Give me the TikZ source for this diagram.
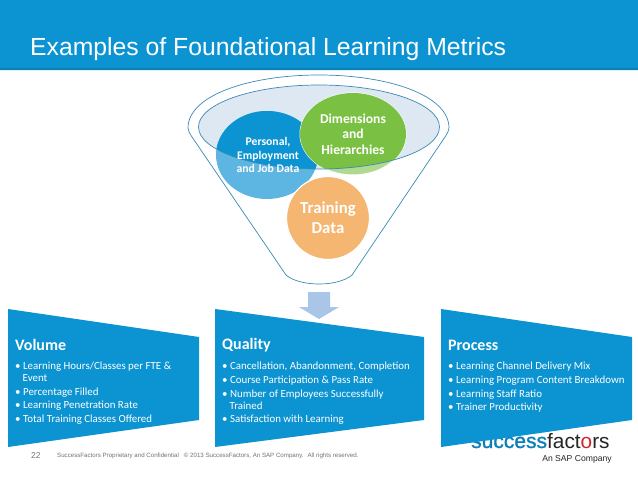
\documentclass[tikz,border=0pt]{standalone}
\usepackage{fontspec}
\setmainfont{Liberation Sans}
\newfontfamily\carl{Carlito}
\newfontfamily\logofont[FakeBold=1.2]{Liberation Sans}
\definecolor{sfblue}{HTML}{0C93D2}
\definecolor{sfdark}{HTML}{0A7FB8}
\definecolor{funline}{HTML}{3B89B5}
\definecolor{rimfill}{HTML}{DEE8F3}
\definecolor{bluelight}{HTML}{5DB6E2}
\definecolor{greensolid}{HTML}{7AC143}
\definecolor{greenlight}{HTML}{AFD98F}
\definecolor{orangefill}{HTML}{F4B670}
\definecolor{arrowfill}{HTML}{A9C5E8}
\definecolor{logored}{HTML}{D2232A}
\tikzset{x=1pt,y=-1pt,
 panel/.style={fill=sfblue,draw=none},
 paneltitle/.style={text=white,font=\carl\bfseries\fontsize{16}{18}\selectfont,anchor=west,inner sep=0pt},
 bul/.style={text=white,font=\carl\fontsize{10.9}{12}\selectfont,anchor=north west,inner sep=0pt,align=left},
 bubble/.style={text=white,align=center,inner sep=0pt},
 foot/.style={text=black!55,font=\fontsize{6.15}{7}\selectfont,anchor=west,inner sep=0pt}}
\newcommand{\funnelpath}{(188,128) .. controls (188,95) and (250,75) .. (319,75) .. controls (388,75) and (449,95) .. (449,128) .. controls (449,131) and (447,134) .. (445,137) -- (352,275) .. controls (345,281) and (332,284) .. (319,284) .. controls (306,284) and (293,281) .. (286,275) -- (192,137) .. controls (190,134) and (188,131) .. (188,128) -- cycle}
\begin{document}
\begin{tikzpicture}
\useasboundingbox (0,0) rectangle (638,479);
\fill[white] (0,0) rectangle (638,479);
% header
\fill[sfblue] (0,0) rectangle (638,69);
\fill[sfdark] (0,68) rectangle (638,70);
\fill[cyan!15] (0,70) rectangle (638,71);
\node[text=white,font=\fontsize{24.75}{28}\selectfont,anchor=base west,inner sep=0pt] (title) at (30,55) {Examples of Foundational Learning Metrics};
% funnel
\draw[funline,line width=0.7pt] \funnelpath;
\fill[rimfill] (319,127) ellipse [x radius=120.5,y radius=42];
\fill[bluelight] (267,155) ellipse [x radius=51,y radius=44];
\fill[greenlight] (353,134) ellipse [x radius=53,y radius=41];
\begin{scope}
\clip (319,127) ellipse [x radius=120.5,y radius=42];
\fill[sfblue] (267,155) ellipse [x radius=51,y radius=44];
\end{scope}
\draw[white,line width=1pt,fill=greenlight] (353,134) ellipse [x radius=53,y radius=41];
\begin{scope}
\clip (319,127) ellipse [x radius=120.5,y radius=42];
\fill[greensolid] (353,134) ellipse [x radius=53,y radius=41];
\end{scope}
\draw[funline,line width=0.7pt] (319,127) ellipse [x radius=120.5,y radius=42];
\draw[white,line width=1.2pt,fill=orangefill] (328,218) circle (41.5);
\node[bubble,font=\carl\bfseries\fontsize{11.7}{13.4}\selectfont] (personal) at (268,155) {Personal,\\Employment\\and Job Data};
\node[bubble,font=\carl\bfseries\fontsize{13.6}{15.5}\selectfont] (dims) at (353,134) {Dimensions\\and\\Hierarchies};
\node[bubble,font=\carl\bfseries\fontsize{16.8}{20}\selectfont] (training) at (328,217.5) {Training\\Data};
% arrow
\fill[arrowfill] (308,292) -- (330,292) -- (330,307) -- (339,307) -- (319,319) -- (299,307) -- (308,307) -- cycle;
% logo
\node[anchor=base west,inner sep=0pt,font=\logofont\fontsize{21}{22}\selectfont,text=sfdark] (logo1) at (471,448) {success};
\node[anchor=base west,inner sep=0pt,font=\fontsize{20.8}{22}\selectfont,text=black!85] (logo2) at (547,448) {fact{\color{logored}o}rs};
\node[anchor=base,inner sep=0pt,font=\fontsize{8.6}{10}\selectfont,text=black!85] (logo3) at (577,461) {An SAP Company};
% panels
\fill[panel] (8,309) -- (199,337) -- (199,420) -- (8,447) -- cycle;
\fill[panel] (215,309) -- (424,337) -- (424,420) -- (215,447) -- cycle;
\fill[panel] (441,309) -- (632,337) -- (632,420) -- (441,447) -- cycle;
\node[paneltitle] (vt) at (15,345) {Volume};
\node[paneltitle] (qt) at (222,345) {Quality};
\node[paneltitle] (pt) at (448,345) {Process};
\node[bul] (v1) at (15,361.5) {•\hspace{2.5pt}Learning Hours/Classes per FTE \&\\\hspace*{7.5pt}Event};
\node[bul] (v2) at (15,387.5) {•\hspace{2.5pt}Percentage Filled};
\node[bul] (v3) at (15,400.5) {•\hspace{2.5pt}Learning Penetration Rate};
\node[bul] (v4) at (15,414.5) {•\hspace{2.5pt}Total Training Classes Offered};
\node[bul] (q1) at (222,361.5) {•\hspace{2.5pt}Cancellation, Abandonment, Completion};
\node[bul] (q2) at (222,375.5) {•\hspace{2.5pt}Course Participation \& Pass Rate};
\node[bul] (q3) at (222,389.5) {•\hspace{2.5pt}Number of Employees Successfully\\\hspace*{7.5pt}Trained};
\node[bul] (q4) at (222,414.5) {•\hspace{2.5pt}Satisfaction with Learning};
\node[bul] (p1) at (448,361.5) {•\hspace{2.5pt}Learning Channel Delivery Mix};
\node[bul] (p2) at (448,375.5) {•\hspace{2.5pt}Learning Program Content Breakdown};
\node[bul] (p3) at (448,389.5) {•\hspace{2.5pt}Learning Staff Ratio};
\node[bul] (p4) at (448,402.5) {•\hspace{2.5pt}Trainer Productivity};
% footer
\node[foot,font=\fontsize{8.5}{10}\selectfont] (pg) at (31,456) {22};
\node[foot] (ft) at (57,456) {SuccessFactors Proprietary and Confidential \ \ © 2013 SuccessFactors, An SAP Company. \ All rights reserved.};
\end{tikzpicture}
\end{document}
